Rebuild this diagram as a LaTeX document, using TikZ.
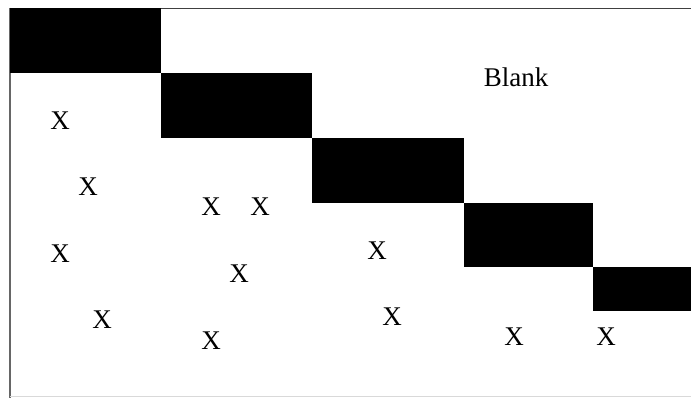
\documentclass[tikz,border=0pt]{standalone}
\usepackage{fontspec}
\setmainfont{Liberation Serif}
\begin{document}
\begin{tikzpicture}[x=1pt,y=-1pt,
  blk/.style={fill=black,draw=none},
  lbl/.style={inner sep=0pt,font=\fontsize{27}{30}\selectfont}]
\useasboundingbox (0,0) rectangle (691,398);
\fill[white] (0,0) rectangle (691,398);
% frame
\draw[line width=1.6pt,black!75] (10,8.5) -- (691,8.5);
\draw[line width=2pt,black!60] (10,8) -- (10,398);
\draw[line width=1pt,black!15] (10,396.5) -- (691,396.5);
% diagonal blocks
\fill[blk] (10,8) rectangle (161,73);
\fill[blk] (161,73) rectangle (312,138);
\fill[blk] (312,138) rectangle (464,203);
\fill[blk] (464,203) rectangle (593,267);
\fill[blk] (593,267) rectangle (691,311);
% labels
\node[lbl] (blank) at (516,77) {Blank};
\node[lbl] (x1) at (60,121) {X};
\node[lbl] (x2) at (88,187) {X};
\node[lbl] (x3) at (60,254) {X};
\node[lbl] (x4) at (102,320) {X};
\node[lbl] (x5) at (211,207) {X};
\node[lbl] (x6) at (260,207) {X};
\node[lbl] (x7) at (239,274) {X};
\node[lbl] (x8) at (211,341) {X};
\node[lbl] (x9) at (377,251) {X};
\node[lbl] (x10) at (392,317) {X};
\node[lbl] (x11) at (514,337) {X};
\node[lbl] (x12) at (606,337) {X};
\end{tikzpicture}
\end{document}
